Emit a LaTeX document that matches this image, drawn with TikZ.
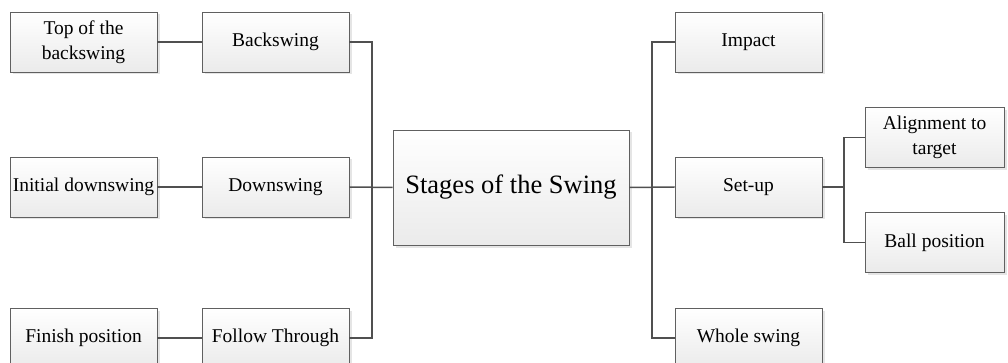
\documentclass[tikz,border=0pt]{standalone}
\usepackage{fontspec}
\setmainfont{Liberation Serif}
\usetikzlibrary{shadows}
\definecolor{edgec}{HTML}{505050}
\definecolor{boxc}{HTML}{606060}
\tikzset{
  box/.style={draw=boxc, line width=0.9pt, top color=white, bottom color=black!8,
    minimum width=147pt, minimum height=60pt, align=center, inner sep=1pt,
    font=\fontsize{19.5}{24.5}\selectfont,
    drop shadow={shadow xshift=2.5pt, shadow yshift=-2.5pt, opacity=0.25, fill=black!40}},
  bigbox/.style={box, minimum width=236pt, minimum height=115pt, font=\fontsize{26.5}{30}\selectfont},
  conn/.style={draw=edgec, line width=1.5pt}
}
\begin{document}
\begin{tikzpicture}[x=1pt,y=1pt]
\useasboundingbox (0,0) rectangle (1008,-363);
\fill[white] (0,0) rectangle (1008,-363);
\node[box] (tob) at (83.5,-42) {Top of the\\backswing};
\node[box] (back) at (275.5,-42) {Backswing};
\node[box] (init) at (83.5,-187) {Initial downswing};
\node[box] (down) at (275.5,-187) {Downswing};
\node[box] (fin) at (83.5,-338) {Finish position};
\node[box] (follow) at (275.5,-338) {Follow Through};
\node[bigbox] (stages) at (511,-187.5) {Stages of the Swing};
\node[box] (impact) at (748.5,-42) {Impact};
\node[box] (setup) at (748.5,-187) {Set-up};
\node[box] (whole) at (748.5,-338) {Whole swing};
\node[box, minimum width=139pt] (align) at (934.5,-137.5) {Alignment to\\target};
\node[box, minimum width=139pt] (ball) at (934.5,-242.5) {Ball position};
\coordinate (jl) at (372,-187);
\coordinate (jr) at (652,-187);
\coordinate (js) at (844,-187);
\draw[conn] (tob) -- (back);
\draw[conn] (init) -- (down);
\draw[conn] (fin) -- (follow);
\draw[conn] (back.east) -| (jl) |- (follow.east);
\draw[conn] (down.east) -- (stages.west);
\draw[conn] (impact.west) -| (jr) |- (whole.west);
\draw[conn] (stages.east) -- (setup.west);
\draw[conn] (setup.east) -- (js);
\draw[conn] (align.west) -| (js) |- (ball.west);
\end{tikzpicture}
\end{document}
